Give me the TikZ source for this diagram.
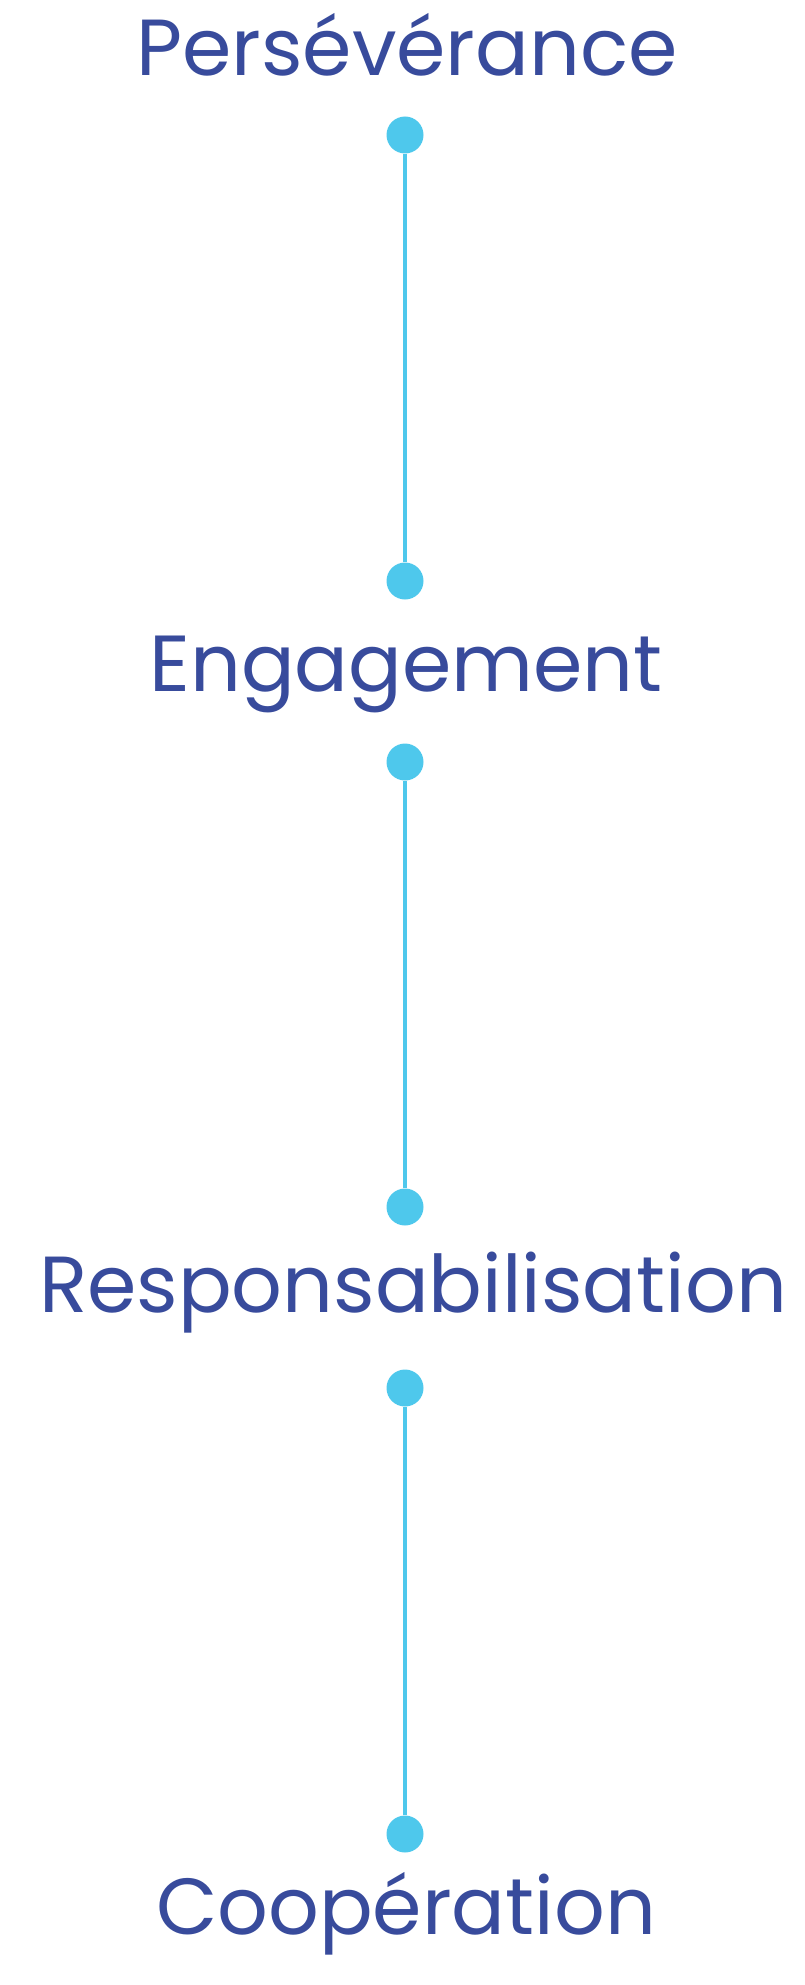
\documentclass[tikz,border=0pt]{standalone}
\usepackage{fontspec}
\setmainfont{Poppins}
\definecolor{txtblue}{HTML}{384B9C}
\definecolor{dotblue}{HTML}{4EC8EC}
\begin{document}
\begin{tikzpicture}[x=1pt,y=-1pt,
  label/.style={anchor=base,text=txtblue,font=\fontsize{79.5}{80}\selectfont,inner sep=0pt},
  dot/.style={circle,fill=dotblue,minimum size=37pt,inner sep=0pt},
  link/.style={draw=dotblue,line width=4.5pt}]
\useasboundingbox (0,0) rectangle (805,1985);
\node[label] (t1) at (407,76) {Persévérance};
\node[dot] (d1) at (405,135) {};
\node[dot] (d2) at (405,581) {};
\node[label] (t2) at (406,691) {Engagement};
\node[dot] (d3) at (405,762) {};
\node[dot] (d4) at (405,1207) {};
\node[label] (t3) at (413,1312) {Responsabilisation};
\node[dot] (d5) at (405,1388) {};
\node[dot] (d6) at (405,1834) {};
\node[label] (t4) at (406,1934) {Coopération};
\draw[link] (d1) -- (d2);
\draw[link] (d3) -- (d4);
\draw[link] (d5) -- (d6);
\end{tikzpicture}
\end{document}
